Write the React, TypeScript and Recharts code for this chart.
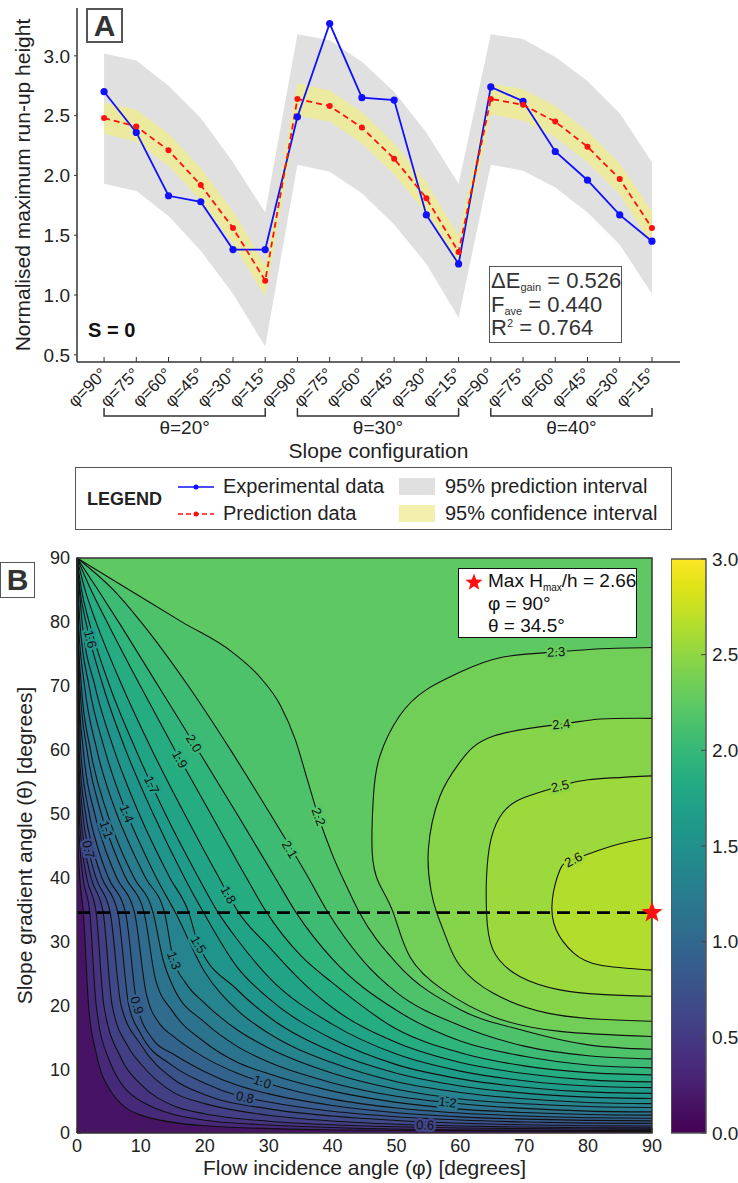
import React from 'react'
import {
  Area,
  ComposedChart,
  Curve,
  Legend,
  Line,
  ReferenceArea,
  Scatter,
  XAxis,
  YAxis,
} from 'recharts'

const FONT = 'Arial, "Liberation Sans", Helvetica, sans-serif'
const INK = '#222'
const AXIS = '#333'

// ---------- panel A data ----------
const phiValues = [90, 75, 60, 45, 30, 15, 90, 75, 60, 45, 30, 15, 90, 75, 60, 45, 30, 15]
const thetaGroups = ['θ=20°', 'θ=30°', 'θ=40°']
const groupCentres = [2.5, 8.5, 14.5]
const experimental = [2.7, 2.36, 1.83, 1.78, 1.38, 1.38, 2.49, 3.27, 2.65, 2.63, 1.67, 1.26, 2.74, 2.62, 2.2, 1.96, 1.67, 1.45]
const prediction = [2.48, 2.41, 2.21, 1.92, 1.56, 1.12, 2.64, 2.58, 2.4, 2.14, 1.81, 1.36, 2.64, 2.59, 2.45, 2.24, 1.97, 1.56]
const piLow = [1.93, 1.87, 1.66, 1.37, 1.01, 0.57, 2.09, 2.03, 1.85, 1.59, 1.26, 0.81, 2.09, 2.04, 1.9, 1.69, 1.42, 1.01]
const piHigh = [3.02, 2.96, 2.75, 2.48, 2.11, 1.69, 3.18, 3.13, 2.95, 2.7, 2.36, 1.93, 3.18, 3.14, 2.99, 2.79, 2.52, 2.11]
const ciLow = [2.35, 2.28, 2.08, 1.79, 1.43, 0.99, 2.5, 2.45, 2.27, 2.01, 1.68, 1.22, 2.51, 2.46, 2.32, 2.11, 1.84, 1.42]
const ciHigh = [2.61, 2.55, 2.35, 2.06, 1.7, 1.25, 2.77, 2.71, 2.53, 2.27, 1.94, 1.5, 2.77, 2.72, 2.58, 2.37, 2.1, 1.7]
const yTicksA = [0.5, 1, 1.5, 2, 2.5, 3]

const rowsA = phiValues.map((phi, i) => ({
  i,
  phi,
  exp: experimental[i],
  pred: prediction[i],
  pi: [piLow[i], piHigh[i]],
  ci: [ciLow[i], ciHigh[i]],
}))

// ---------- panel B data: contour lines [phi, theta] ----------
const c03 = [[0, 90], [0.19, 45], [0.43, 40], [1.0, 34.5], [1.8, 20], [3, 12.5], [5, 7], [10, 2.8], [20, 1.14], [40, 0.48], [90, 0.21]]
const c04 = [[0, 90], [0.19, 50], [0.44, 45], [0.94, 40], [2.0, 34.5], [3, 20], [5, 11.5], [10, 5], [20, 2.0], [30, 1.26], [50, 0.63], [70, 0.43], [90, 0.37]]
const c05 = [[0, 90], [0.35, 50], [0.75, 45], [1.51, 40], [3.0, 34.5], [4.2, 20], [7, 11.5], [10, 7.6], [15, 4.3], [20, 3.0], [30, 1.84], [40, 1.28], [50, 0.97], [60, 0.78], [70, 0.68], [80, 0.62], [90, 0.6]]
const c06 = [[0, 90], [0.1, 60], [0.57, 50], [1.16, 45], [2.19, 40], [4.1, 34.5], [5.5, 20], [8, 13.5], [10, 10.8], [15, 6.4], [20, 4.6], [30, 2.78], [40, 1.87], [50, 1.37], [60, 1.09], [70, 0.93], [80, 0.82], [90, 0.8]]
const c07 = [[0, 90], [0.19, 60], [0.89, 50], [1.68, 45], [2.96, 40], [5.2, 34.5], [6.9, 20], [10, 13.8], [15, 8.5], [20, 6.0], [30, 3.78], [40, 2.65], [50, 1.95], [60, 1.52], [70, 1.28], [80, 1.14], [90, 1.1]]
const c08 = [[0, 90], [0.33, 60], [1.33, 50], [2.34, 45], [3.88, 40], [6.4, 34.5], [8.1, 20], [10, 15.5], [15, 10.5], [20, 7.8], [25, 5.9], [30, 4.85], [40, 3.4], [50, 2.54], [60, 2.03], [70, 1.72], [80, 1.55], [90, 1.5]]
const c09 = [[0, 90], [0.57, 60], [1.92, 50], [3.15, 45], [4.9, 40], [7.6, 34.5], [9.4, 20], [12, 14.5], [15, 12.4], [20, 9.6], [25, 7.5], [30, 6.12], [40, 4.31], [50, 3.17], [60, 2.53], [70, 2.17], [80, 1.97], [90, 1.9]]
const c10 = [[0, 90], [0.23, 70], [0.98, 60], [2.77, 50], [4.23, 45], [6.2, 40], [9.0, 34.5], [10.8, 22], [13, 17], [15, 15.2], [20, 11.8], [25, 9.4], [30, 7.7], [40, 5.3], [50, 3.91], [60, 3.12], [70, 2.65], [80, 2.39], [90, 2.3]]
const c11 = [[0, 90], [0.44, 70], [1.56, 60], [3.8, 50], [5.5, 45], [7.6, 40], [10.5, 34.5], [12.3, 24], [15, 19], [20, 14.2], [25, 11.1], [30, 9.26], [40, 6.55], [50, 4.8], [60, 3.74], [70, 3.2], [80, 2.9], [90, 2.8]]
const c12 = [[0, 90], [0.1, 80], [0.68, 70], [2.1, 60], [4.76, 50], [6.6, 45], [8.9, 40], [11.9, 34.5], [13.5, 27], [15, 23], [20, 17.3], [25, 13.6], [30, 11.1], [40, 7.84], [50, 5.75], [60, 4.58], [70, 3.85], [80, 3.43], [90, 3.3]]
const c13 = [[0, 90], [0.22, 80], [1.18, 70], [3.1, 60], [6.2, 50], [8.3, 45], [10.7, 40], [13.7, 34.5], [15, 27.5], [17, 23.5], [20, 20.3], [25, 16.2], [30, 13.3], [40, 9.35], [50, 6.85], [60, 5.33], [70, 4.57], [80, 4.14], [90, 4.0]]
const c14 = [[0, 90], [0.45, 80], [1.88, 70], [4.34, 60], [7.8, 50], [10.0, 45], [12.4, 40], [15.4, 34.5], [20, 25.2], [25, 19.3], [30, 15.6], [40, 10.98], [50, 8.03], [60, 6.35], [70, 5.35], [80, 4.78], [90, 4.6]]
const c15 = [[0, 90], [0.8, 80], [2.8, 70], [5.8, 60], [9.7, 50], [14.5, 40], [17.5, 34.5], [19, 29.5], [25, 22.5], [30, 18.2], [40, 12.7], [50, 9.35], [60, 7.36], [70, 6.24], [80, 5.61], [90, 5.4]]
const c16 = [[0, 90], [0.47, 85], [1.39, 80], [4.07, 70], [7.6, 60], [11.9, 50], [16.8, 40], [19.8, 34.5], [25, 26.05], [30, 21.06], [40, 14.7], [50, 10.7], [60, 8.47], [70, 7.17], [80, 6.43], [90, 6.2]]
const c17 = [[0, 90], [0.71, 85], [1.9, 80], [5.1, 70], [9.2, 60], [13.8, 50], [19.0, 40], [22.1, 34.5], [25, 30.4], [30, 24.4], [40, 17.0], [50, 12.35], [60, 9.68], [70, 8.18], [80, 7.36], [90, 7.1]]
const c18 = [[0, 90], [1.26, 85], [2.97, 80], [7.06, 70], [11.7, 60], [16.8, 50], [22.2, 40], [25.3, 34.5], [30, 29.2], [35, 23.9], [40, 19.6], [50, 14.15], [60, 11.03], [70, 9.31], [80, 8.32], [90, 8.0]]
const c19 = [[0, 90], [2.2, 85], [4.7, 80], [9.9, 70], [15.3, 60], [20.9, 50], [26.5, 40], [29.7, 34.5], [35, 27.8], [40, 23.5], [50, 16.27], [60, 12.57], [70, 10.5], [80, 9.45], [90, 9.1]]
const c20 = [[0, 90], [3.3, 85], [6.5, 80], [12.7, 70], [18.9, 60], [25.0, 50], [31.0, 40], [34.3, 34.5], [40, 27.2], [50, 19.2], [60, 14.4], [70, 12.0], [80, 10.64], [90, 10.2]]
const c21 = [[0, 90], [5.7, 85], [10.0, 80], [17.4, 70], [24.0, 60], [30.2, 50], [36.2, 40], [39.3, 34.5], [45, 26.7], [50, 22.0], [60, 16.8], [70, 13.6], [80, 12.1], [90, 11.6]]
const c22 = [[0, 90], [8.2, 85], [16.4, 80], [24.4, 75.2], [28.5, 71.5], [31.8, 67], [34.2, 61.5], [36, 55.5], [37.8, 49.5], [40, 43.5], [42.2, 38.6], [44.2, 34.5], [50, 26.6], [60, 19.3], [70, 16], [80, 13.8], [90, 13.1]]
const c23 = [[90, 76], [82, 75.8], [75, 75.3], [66.2, 74.4], [59.9, 72.1], [54.7, 69.4], [50.5, 65.3], [47.4, 59], [46.4, 52.7], [46.2, 44], [47.3, 39], [49.5, 34.5], [52.1, 27.6], [57.3, 22.4], [65.1, 18.2], [75.6, 15.9], [90, 15.1]]
const c24 = [[90, 64.9], [82, 64.8], [75.8, 64], [65.1, 62.1], [59.9, 58], [56.8, 52.7], [55, 44.4], [55.4, 38], [56.3, 34.5], [58, 30], [60, 26.1], [65.1, 21.9], [73.5, 18.8], [82, 17.8], [90, 17.5]]
const c25 = [[90, 55.9], [80, 55.3], [75.6, 54.3], [70, 52.5], [66.7, 50.2], [64.8, 46], [64.1, 40], [64.1, 34.5], [65.1, 28.7], [69.3, 24.5], [75.6, 22.4], [82, 21.7], [90, 21.4]]
const c26 = [[90, 46.3], [84, 45], [77.7, 42.8], [75.6, 41.2], [74.4, 36.5], [75, 31.8], [77.7, 28.2], [81.8, 26.3], [90, 25.5]]

const contourLevels = [0.3, 0.4, 0.5, 0.6, 0.7, 0.8, 0.9, 1.0, 1.1, 1.2, 1.3, 1.4, 1.5, 1.6, 1.7, 1.8, 1.9, 2.0, 2.1, 2.2, 2.3, 2.4, 2.5, 2.6]
const contourPaths = [c03, c04, c05, c06, c07, c08, c09, c10, c11, c12, c13, c14, c15, c16, c17, c18, c19, c20, c21, c22, c23, c24, c25, c26]

const contourLabels = [
  { text: '2.3', x: 75, y: 75.3, angle: -3 },
  { text: '2.4', x: 75.8, y: 64, angle: -6 },
  { text: '2.5', x: 75.6, y: 54.3, angle: -13 },
  { text: '2.6', x: 77.7, y: 42.8, angle: -28 },
  { text: '2.2', x: 37.8, y: 49.5, angle: 70 },
  { text: '2.1', x: 33.3, y: 44.4, angle: 59 },
  { text: '2.0', x: 18.3, y: 61, angle: 58 },
  { text: '1.9', x: 16.1, y: 58.5, angle: 61 },
  { text: '1.8', x: 23.7, y: 37.3, angle: 61 },
  { text: '1.7', x: 11.7, y: 54.5, angle: 65 },
  { text: '1.6', x: 2.1, y: 77.3, angle: 75 },
  { text: '1.5', x: 19, y: 29.5, angle: 60 },
  { text: '1.4', x: 7.8, y: 50, angle: 68 },
  { text: '1.3', x: 15.2, y: 27, angle: 70 },
  { text: '1.2', x: 58, y: 4.8, angle: 7 },
  { text: '1.1', x: 4.6, y: 47.5, angle: 71 },
  { text: '1.0', x: 29, y: 8.0, angle: 19 },
  { text: '0.9', x: 9.4, y: 20, angle: 72 },
  { text: '0.8', x: 26.3, y: 5.6, angle: 12 },
  { text: '0.7', x: 1.8, y: 44.4, angle: 76 },
  { text: '0.6', x: 54.5, y: 1.24, angle: 2 },
]

const maxPoint = [{ x: 90, y: 34.5 }]
const maxLine = [{ x: 0, y: 34.5 }, { x: 90, y: 34.5 }]
const degTicks = [0, 10, 20, 30, 40, 50, 60, 70, 80, 90]
const colourTicks = [0, 0.5, 1, 1.5, 2, 2.5, 3]

// viridis colour map
const VIRIDIS = ['#440154', '#471365', '#482475', '#463480', '#414487', '#3b528b', '#355f8d', '#2f6c8e', '#2a788e', '#25848e', '#21918c', '#1e9c89', '#22a884', '#2fb47c', '#44bf70', '#5ec962', '#7ad151', '#9bd93c', '#bddf26', '#dfe318', '#fde725']

function hexRgb(h: string) {
  return [parseInt(h.slice(1, 3), 16), parseInt(h.slice(3, 5), 16), parseInt(h.slice(5, 7), 16)]
}

function viridis(t: number) {
  const c = Math.max(0, Math.min(1, t)) * 20
  const i = Math.min(19, Math.floor(c))
  const f = c - i
  const a = hexRgb(VIRIDIS[i])
  const b = hexRgb(VIRIDIS[i + 1])
  const m = a.map((v, k) => Math.round(v + (b[k] - v) * f))
  return `rgb(${m[0]},${m[1]},${m[2]})`
}

const toXY = (p: number[]) => ({ x: p[0], y: p[1] })
const noShape = () => <g />

// filled region above a contour: against the top edge, or against the right edge for the closed rings
const bandFill = (color: string, ring: boolean) => (props: any) => {
  const pts = props.points
  const corner = pts[pts.length - 1]
  const path = pts.slice(0, -1)
  return ring ? (
    <Curve points={path} type="natural" layout="vertical" baseLine={corner.x} fill={color} stroke="none" />
  ) : (
    <Curve points={path} type="monotoneX" layout="horizontal" baseLine={corner.y} fill={color} stroke="none" />
  )
}

const contourLine = (ring: boolean) => (props: any) => (
  <Curve points={props.points} type={ring ? 'natural' : 'monotoneX'} fill="none" stroke="#111" strokeWidth={1.1} />
)

const plainLine = (stroke: string, width: number, dash?: string) => (props: any) => (
  <Curve points={props.points} type="linear" fill="none" stroke={stroke} strokeWidth={width} strokeDasharray={dash} />
)

function ContourLabel(p: any) {
  const d = p.payload
  return (
    <text
      x={p.cx}
      y={p.cy}
      transform={`rotate(${d.angle} ${p.cx} ${p.cy})`}
      textAnchor="middle"
      dominantBaseline="central"
      fontSize={13}
      fill="#111"
      stroke={viridis(parseFloat(d.text) / 3)}
      strokeWidth={5}
      strokeLinejoin="round"
      paintOrder="stroke"
    >
      {d.text}
    </text>
  )
}

function starPoints(cx: number, cy: number, R: number, r: number) {
  const out: string[] = []
  for (let k = 0; k < 10; k++) {
    const a = ((-90 + k * 36) * Math.PI) / 180
    const rad = k % 2 ? r : R
    out.push(`${cx + rad * Math.cos(a)},${cy + rad * Math.sin(a)}`)
  }
  return out.join(' ')
}

const StarShape = (p: any) => <polygon points={starPoints(p.cx, p.cy, 11, 4.6)} fill="#ff1010" />

const vLabel = (text: string, cx: number) => (props: any) => {
  const vb = props.viewBox
  const cy = vb.y + vb.height / 2
  return (
    <text x={cx} y={cy} transform={`rotate(-90 ${cx} ${cy})`} textAnchor="middle" dominantBaseline="central" fontSize={21} fill={INK}>
      {text}
    </text>
  )
}

function PhiTick({ x, y, payload }: any) {
  const ax = x + 4
  const ay = y + 16
  return (
    <text x={ax} y={ay} transform={`rotate(-45 ${ax} ${ay})`} textAnchor="end" fontSize={17} fill={INK}>
      φ={phiValues[payload.value]}°
    </text>
  )
}

function GroupTick({ x, y, index }: any) {
  const hw = 80.6
  return (
    <g>
      <path d={`M${x - hw},${y - 8} V${y} H${x + hw} V${y - 8}`} stroke={AXIS} strokeWidth={1.5} fill="none" />
      <text x={x} y={y + 18} textAnchor="middle" fontSize={19} fill={INK}>
        {thetaGroups[index]}
      </text>
    </g>
  )
}

function LegendBox() {
  const row = (top: number) => ({ position: 'absolute' as const, top, fontSize: 20, lineHeight: '22px' })
  return (
    <div style={{ position: 'relative', boxSizing: 'border-box', width: 597, height: 63, border: '1.5px solid #555', fontFamily: FONT, color: INK, background: '#fff' }}>
      <span style={{ position: 'absolute', left: 11, top: 21, fontWeight: 700, fontSize: 18 }}>LEGEND</span>
      <svg style={{ position: 'absolute', left: 101, top: 11 }} width={38} height={44}>
        <line x1={1} y1={8} x2={37} y2={8} stroke="#1010ff" strokeWidth={1.5} />
        <circle cx={19} cy={8} r={2.5} fill="#1010ff" />
        <line x1={1} y1={35} x2={37} y2={35} stroke="#ff1010" strokeWidth={1.5} strokeDasharray="5 3" />
        <circle cx={19} cy={35} r={2.5} fill="#ff1010" />
      </svg>
      <span style={{ ...row(7), left: 147 }}>Experimental data</span>
      <span style={{ ...row(34), left: 147 }}>Prediction data</span>
      <div style={{ position: 'absolute', left: 323, top: 10, width: 36, height: 17, background: '#e0e0e0' }} />
      <div style={{ position: 'absolute', left: 323, top: 37, width: 36, height: 17, background: '#f2f0ac' }} />
      <span style={{ ...row(7), left: 369 }}>95% prediction interval</span>
      <span style={{ ...row(34), left: 369 }}>95% confidence interval</span>
    </div>
  )
}

function PanelA() {
  const dom: [number, number] = [-0.84, 17.87]
  return (
    <ComposedChart width={738} height={540} data={rowsA} margin={{ top: 8, right: 58, bottom: 76, left: 0 }}>
      <XAxis
        xAxisId="a-phi"
        dataKey="i"
        type="number"
        domain={dom}
        ticks={rowsA.map((r) => r.i)}
        interval={0}
        height={46}
        tickSize={-5}
        tick={<PhiTick />}
        axisLine={{ stroke: AXIS, strokeWidth: 1.5 }}
        tickLine={{ stroke: AXIS }}
      />
      <XAxis
        xAxisId="b-theta"
        dataKey="i"
        type="number"
        domain={dom}
        ticks={groupCentres}
        interval={0}
        height={56}
        tick={<GroupTick />}
        axisLine={false}
        tickLine={false}
        label={{ value: 'Slope configuration', position: 'insideBottom', offset: 6, fontSize: 21, fill: INK }}
      />
      <YAxis
        type="number"
        domain={[0.44, 3.4]}
        ticks={yTicksA}
        interval={0}
        width={77}
        tickSize={3}
        tickMargin={4}
        tickFormatter={(v: number) => v.toFixed(1)}
        tick={{ fontSize: 19, fill: INK }}
        axisLine={{ stroke: AXIS, strokeWidth: 1.5 }}
        tickLine={{ stroke: AXIS }}
        label={vLabel('Normalised maximum run-up height', 22)}
      />
      <Area xAxisId="a-phi" dataKey="pi" type="linear" stroke="none" fill="#e0e0e0" fillOpacity={1} isAnimationActive={false} activeDot={false} />
      <Area xAxisId="a-phi" dataKey="ci" type="linear" stroke="none" fill="#ecea9e" fillOpacity={1} isAnimationActive={false} activeDot={false} />
      <Line
        xAxisId="a-phi"
        dataKey="exp"
        type="linear"
        stroke="#1010ff"
        strokeWidth={1.8}
        dot={{ r: 3.6, fill: '#1010ff', strokeWidth: 0 }}
        isAnimationActive={false}
        activeDot={false}
      />
      <Line
        xAxisId="a-phi"
        dataKey="pred"
        type="linear"
        stroke="#ff1010"
        strokeWidth={1.8}
        strokeDasharray="6 4"
        dot={{ r: 3, fill: '#ff1010', strokeWidth: 0 }}
        isAnimationActive={false}
        activeDot={false}
      />
      <Legend
        layout="vertical"
        verticalAlign="middle"
        align="center"
        wrapperStyle={{ top: 467, left: 75, width: 597, height: 63 }}
        content={() => <LegendBox />}
      />
    </ComposedChart>
  )
}

function PanelB() {
  const corner = { x: 90, y: 90 }
  const frame = [{ x: 0, y: 0 }, { x: 90, y: 0 }, { x: 90, y: 90 }, { x: 0, y: 90 }, { x: 0, y: 0 }]
  return (
    <ComposedChart width={738} height={643} margin={{ top: 18, right: 86, bottom: 0, left: 0 }}>
      <XAxis
        type="number"
        dataKey="x"
        domain={[0, 90]}
        ticks={degTicks}
        interval={0}
        height={50}
        tickSize={-5}
        tickMargin={11}
        axisLine={false}
        tickLine={{ stroke: AXIS }}
        tick={{ fontSize: 18, fill: INK }}
        label={{ value: 'Flow incidence angle (φ) [degrees]', position: 'insideBottom', offset: 8, fontSize: 21, fill: INK }}
      />
      <YAxis
        type="number"
        dataKey="y"
        domain={[0, 90]}
        ticks={degTicks}
        interval={0}
        width={77}
        tickSize={-4}
        tickMargin={11}
        axisLine={false}
        tickLine={{ stroke: AXIS }}
        tick={{ fontSize: 18, fill: INK }}
        label={vLabel('Slope gradient angle (θ) [degrees]', 24)}
      />
      <ReferenceArea x1={0} x2={90} y1={0} y2={90} fill={viridis(0.15 / 3)} fillOpacity={1} stroke="none" />
      {contourPaths.map((pts, k) => {
        const level = contourLevels[k]
        const ring = level > 2.25
        return (
          <Scatter
            key={`fill-${level}`}
            data={[...pts.map(toXY), corner]}
            line={bandFill(viridis((level + 0.05) / 3), ring)}
            shape={noShape}
            isAnimationActive={false}
          />
        )
      })}
      {contourPaths.map((pts, k) => {
        const level = contourLevels[k]
        return (
          <Scatter
            key={`line-${level}`}
            data={pts.map(toXY)}
            line={contourLine(level > 2.25)}
            shape={noShape}
            isAnimationActive={false}
          />
        )
      })}
      <Scatter data={contourLabels} shape={<ContourLabel />} isAnimationActive={false} />
      <Scatter data={maxLine} line={plainLine('#000', 2.6, '13 7')} shape={noShape} isAnimationActive={false} />
      <Scatter data={frame} line={plainLine(AXIS, 1.5)} shape={noShape} isAnimationActive={false} />
      <Scatter data={maxPoint} shape={<StarShape />} isAnimationActive={false} />
    </ComposedChart>
  )
}

function ColourBar() {
  return (
    <ComposedChart width={67} height={594} margin={{ top: 10, right: 0, bottom: 10, left: 0 }}>
      <defs>
        <linearGradient id="viridisBar" x1="0" y1="1" x2="0" y2="0">
          {VIRIDIS.map((c, i) => (
            <stop key={c} offset={i / 20} stopColor={c} />
          ))}
        </linearGradient>
      </defs>
      <XAxis type="number" dataKey="x" domain={[0, 1]} hide />
      <YAxis
        type="number"
        dataKey="y"
        orientation="right"
        domain={[0, 3]}
        ticks={colourTicks}
        interval={0}
        width={32}
        tickSize={-5}
        tickMargin={11}
        axisLine={false}
        tickLine={{ stroke: '#444' }}
        tickFormatter={(v: number) => v.toFixed(1)}
        tick={{ fontSize: 19, fill: INK, textAnchor: 'start' }}
      />
      <ReferenceArea x1={0} x2={1} y1={0} y2={3} fill="url(#viridisBar)" fillOpacity={1} stroke="#555" strokeWidth={1.5} />
      <Scatter data={[{ x: 0, y: 0 }]} shape={noShape} isAnimationActive={false} />
    </ComposedChart>
  )
}

const boxStyle: React.CSSProperties = {
  position: 'absolute',
  boxSizing: 'border-box',
  background: '#fff',
}

export default function App() {
  return (
    <div style={{ position: 'absolute', left: 0, top: 0, width: 738, height: 1183, background: '#fff', fontFamily: FONT, color: INK }}>
      <div style={{ position: 'absolute', left: 0, top: 0 }}>
        <PanelA />
      </div>
      <div style={{ position: 'absolute', left: 0, top: 540 }}>
        <PanelB />
      </div>
      <div style={{ position: 'absolute', left: 671, top: 549 }}>
        <ColourBar />
      </div>

      {/* panel letters and annotations */}
      <div style={{ ...boxStyle, left: 86, top: 8, width: 37, height: 35, border: '2px solid #555', fontSize: 30, fontWeight: 700, color: '#333', lineHeight: '31px', textAlign: 'center' }}>A</div>
      <div style={{ ...boxStyle, left: 0, top: 562, width: 35, height: 36, border: '1.5px solid #555', fontSize: 30, fontWeight: 700, color: '#333', lineHeight: '33px', textAlign: 'center' }}>B</div>
      <div style={{ position: 'absolute', left: 88, top: 319, fontSize: 20, fontWeight: 700, color: '#111' }}>S = 0</div>
      <div style={{ ...boxStyle, left: 489, top: 266, width: 133, height: 77, border: '1.5px solid #555', fontSize: 22, lineHeight: '23.5px', color: '#333', padding: '2px 0 0 1px', whiteSpace: 'nowrap' }}>
        <div>ΔE<span style={{ fontSize: 11, verticalAlign: -3, lineHeight: 0 }}>gain</span> = 0.526</div>
        <div>F<span style={{ fontSize: 11, verticalAlign: -3, lineHeight: 0 }}>ave</span> = 0.440</div>
        <div>R<span style={{ fontSize: 11, verticalAlign: 8, lineHeight: 0 }}>2</span> = 0.764</div>
      </div>
      <div style={{ ...boxStyle, left: 458, top: 568, width: 179, height: 70, border: '1.5px solid #111', fontSize: 19, lineHeight: '22.5px', color: '#111', padding: '1px 0 0 29px', whiteSpace: 'nowrap' }}>
        <svg style={{ position: 'absolute', left: 5, top: 3 }} width={20} height={20}>
          <polygon points={starPoints(10, 10.5, 9, 3.8)} fill="#ff1010" />
        </svg>
        <div>Max H<span style={{ fontSize: 10, verticalAlign: -4, lineHeight: 0 }}>max</span>/h = 2.66</div>
        <div>φ = 90°</div>
        <div>θ = 34.5°</div>
      </div>
    </div>
  )
}
